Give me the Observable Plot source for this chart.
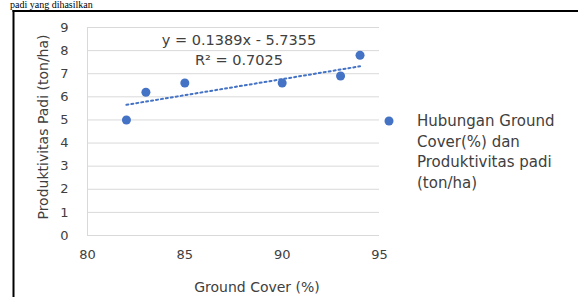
<!DOCTYPE html>
<html><head><meta charset="utf-8">
<script src="https://cdn.jsdelivr.net/npm/d3@7"></script>
<script src="https://cdn.jsdelivr.net/npm/@observablehq/plot@0.6"></script>
<style>body{margin:0;background:#fff;overflow:hidden}</style>
</head><body><div id="chart"></div>
<script>
const groundCover = [82, 83, 85, 90, 93, 94];
const produktivitas = [5.0, 6.2, 6.6, 6.6, 6.9, 7.8];
const xTicks = [80, 85, 90, 95];
const yTicks = [0, 1, 2, 3, 4, 5, 6, 7, 8, 9];
const slope = 0.1389, intercept = -5.7355;
const equationLabels = ["y = 0.1389x - 5.7355", "R² = 0.7025"];
const legendLines = ["Hubungan Ground", "Cover(%) dan", "Produktivitas padi", "(ton/ha)"];
const xTitle = "Ground Cover (%)";
const yTitle = "Produktivitas Padi (ton/ha)";
const topText = "padi yang dihasilkan";

const blue = "#4472C4";
const txt = "#404040";
const points = groundCover.map((x, i) => ({x, y: produktivitas[i]}));
const trend = d3.extent(groundCover).map(x => ({x, y: slope * x + intercept}));

const plot = Plot.plot({
  width: 578, height: 297,
  marginLeft: 87, marginRight: 199, marginTop: 27, marginBottom: 62,
  style: {fontFamily: "DejaVu Sans", background: "white", overflow: "visible"},
  x: {domain: [80, 95]},
  y: {domain: [0, 9]},
  marks: [
    Plot.gridY(yTicks, {stroke: "#d9d9d9", strokeOpacity: 1}),
    Plot.ruleX([80], {stroke: "#d9d9d9"}),
    Plot.axisY({ticks: yTicks, tickSize: 0, tickPadding: 19, fontSize: 13, fill: txt, label: null}),
    Plot.axisX({ticks: xTicks, tickSize: 0, tickPadding: 14, fontSize: 13, fill: txt, label: null}),
    Plot.line(trend, {x: "x", y: "y", stroke: blue, strokeWidth: 2, strokeDasharray: "2,3"}),
    Plot.dot(points, {x: "x", y: "y", r: 4.5, fill: blue, stroke: null})
  ]
});
document.getElementById("chart").append(plot);

const svg = d3.select(plot);
// frame
svg.append("line").attr("x1", 13.5).attr("x2", 13.5).attr("y1", 10).attr("y2", 297).attr("stroke", "#000").attr("stroke-width", 2);
svg.append("line").attr("x1", 12.5).attr("x2", 578).attr("y1", 11).attr("y2", 11).attr("stroke", "#000").attr("stroke-width", 2);
// top text (document line above the chart)
svg.append("text").attr("x", 10).attr("y", 8).attr("text-anchor", "start")
  .attr("font-family", "Liberation Serif").attr("font-size", 10).attr("fill", "#000").text(topText);
// equation
equationLabels.forEach((t, i) => {
  svg.append("text").attr("x", 239).attr("y", 45 + i * 20).attr("text-anchor", "middle")
    .attr("font-family", "DejaVu Sans").attr("font-size", 14.5).attr("fill", txt).text(t);
});
// axis titles
svg.append("text").attr("x", 257).attr("y", 292).attr("text-anchor", "middle")
  .attr("font-family", "DejaVu Sans").attr("font-size", 14).attr("fill", txt).text(xTitle);
svg.append("text").attr("transform", "translate(48,127) rotate(-90)").attr("text-anchor", "middle")
  .attr("font-family", "DejaVu Sans").attr("font-size", 14).attr("fill", txt).text(yTitle);
// legend
svg.append("circle").attr("cx", 389).attr("cy", 121).attr("r", 4.5).attr("fill", blue);
legendLines.forEach((t, i) => {
  svg.append("text").attr("x", 417).attr("y", 126 + i * 20.5).attr("text-anchor", "start")
    .attr("font-family", "DejaVu Sans").attr("font-size", 15).attr("fill", txt).text(t);
});
</script>
</body></html>
